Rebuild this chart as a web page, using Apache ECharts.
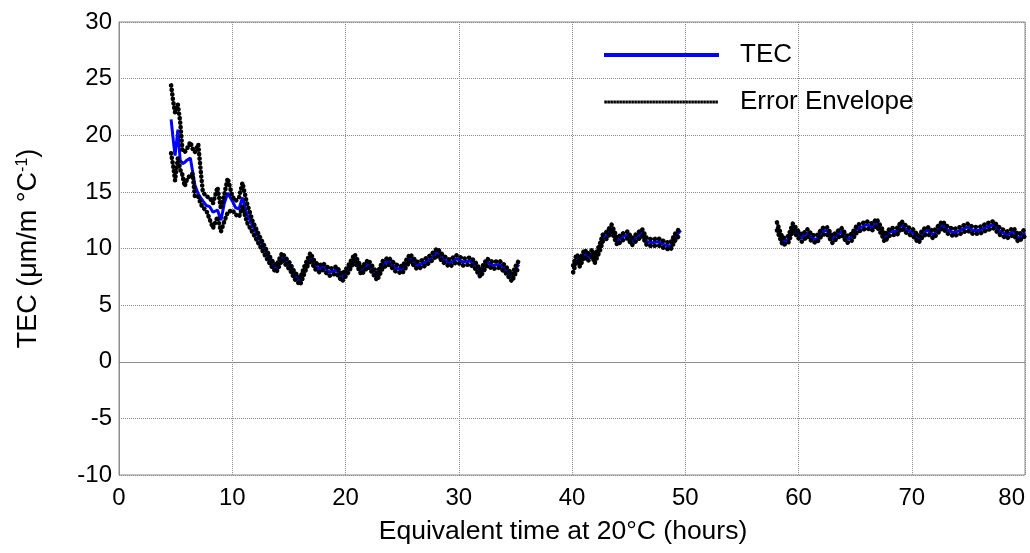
<!DOCTYPE html>
<html>
<head>
<meta charset="utf-8">
<script src="https://cdn.jsdelivr.net/npm/echarts@6/dist/echarts.min.js"></script>
<style>
html,body{margin:0;padding:0;background:#fff;}
#chart{width:1030px;height:553px;}
</style>
</head>
<body>
<div id="chart"></div>
<script>
// Equivalent time at 20°C (hours); null rows split the curve into its three segments
var hours = [
  4.6,4.8,4.95,5.2,5.4,5.6,5.8,6.0,6.3,6.5,6.7,7.0,7.2,7.4,7.7,8.0,8.3,8.7,9.0,9.3,9.6,10.0,10.3,10.6,10.9,11.3,11.8,12.4,13.0,
  13.3,13.6,13.9,14.4,14.7,15.1,15.5,16.0,16.4,16.9,17.3,17.7,18.0,18.6,19.2,19.7,20.2,20.8,21.4,22.0,22.4,22.8,23.3,23.8,24.4,25.0,
  25.7,26.3,26.9,27.5,28.1,28.6,29.2,29.8,30.4,31.0,31.4,31.9,32.5,33.0,33.6,34.1,34.7,35.1,35.3,
  37.5,
  40.1,40.4,40.7,41.1,41.4,41.8,42.0,42.5,42.7,43.1,43.5,44.0,44.4,44.9,45.3,45.7,46.2,46.6,47.1,47.6,48.2,48.7,49.1,49.6,
  54.0,
  58.1,58.3,58.6,59.1,59.5,60.0,60.3,60.8,61.2,61.6,62.1,62.5,63.0,63.4,63.8,64.3,64.7,65.2,65.6,66.0,66.5,66.9,67.4,67.6,68.1,
  68.7,69.1,69.6,70.1,70.6,71.0,71.4,71.9,72.7,73.2,73.7,74.3,74.9,75.4,76.0,76.6,77.2,77.8,78.4,79.0,79.4,80.0
];
// TEC (µm/m °C-1)
var tec = [
  21.4,19.5,18.2,20.5,17.8,17.5,17.6,17.8,18.0,16.8,15.6,14.8,14.5,14.2,13.8,13.7,13.2,13.4,12.5,14.0,14.9,14.2,13.6,13.5,14.5,13.0,12.0,10.8,9.6,
  9.0,8.5,8.2,9.3,8.9,8.4,7.6,7.1,8.2,9.3,8.5,8.2,8.4,7.9,8.1,7.4,8.1,9.2,8.0,8.7,8.1,7.5,8.6,8.9,8.3,8.1,
  9.2,8.5,8.7,9.1,9.7,9.1,8.7,9.1,8.8,8.9,8.6,7.8,8.8,8.5,8.6,8.2,7.4,8.3,8.6,
  null,
  8.2,9.2,8.7,9.6,9.2,9.6,9.0,10.2,10.9,11.2,11.8,10.6,11.0,11.2,10.6,11.0,11.4,10.6,10.5,10.6,10.3,10.2,11.0,11.6,
  null,
  11.9,11.4,10.6,10.8,11.9,11.2,10.9,11.4,10.9,10.8,11.5,11.6,10.8,11.2,11.5,10.8,11.0,11.8,11.9,12.1,11.9,12.3,11.4,10.9,11.5,
  11.5,12.1,11.6,11.4,10.8,11.4,11.6,11.2,12.1,11.6,11.4,11.6,11.9,11.6,11.6,11.9,12.1,11.5,11.2,11.5,10.9,11.4
];
// Upper edge of the error envelope
var upper = [
  24.4,22.9,22.0,22.7,21.2,18.7,18.5,18.8,19.4,18.8,18.5,19.2,17.0,15.0,14.6,14.5,14.0,15.4,13.5,14.8,16.2,14.6,14.2,14.5,15.8,14.0,12.4,11.1,9.9,
  9.3,8.8,8.5,9.6,9.2,8.7,7.9,7.4,8.5,9.6,8.8,8.5,8.7,8.2,8.4,7.7,8.4,9.5,8.3,9.0,8.4,7.8,8.9,9.2,8.6,8.4,
  9.5,8.8,9.0,9.4,10.0,9.4,9.0,9.4,9.1,9.2,8.9,8.1,9.1,8.8,8.9,8.5,7.7,8.6,8.9,
  null,
  8.5,9.5,9.0,9.9,9.5,9.9,9.3,10.5,11.2,11.5,12.1,10.9,11.3,11.5,10.9,11.3,11.7,10.9,10.8,10.9,10.6,10.5,11.3,11.9,
  null,
  12.3,11.7,10.9,11.1,12.2,11.5,11.2,11.7,11.2,11.1,11.8,11.9,11.1,11.5,11.8,11.1,11.3,12.1,12.2,12.4,12.2,12.6,11.7,11.2,11.8,
  11.8,12.4,11.9,11.7,11.1,11.7,11.9,11.5,12.4,11.9,11.7,11.9,12.2,11.9,11.9,12.2,12.4,11.8,11.5,11.8,11.2,11.7
];
// Lower edge of the error envelope
var lower = [
  18.4,17.2,16.0,18.0,17.0,16.5,15.5,16.1,16.5,16.6,14.6,14.6,14.0,13.6,13.4,12.6,11.8,12.8,11.5,12.4,13.2,13.4,13.0,12.8,13.7,12.3,11.4,10.3,9.2,
  8.7,8.2,7.9,9.0,8.6,8.1,7.3,6.8,7.9,9.0,8.2,7.9,8.1,7.6,7.8,7.1,7.8,8.9,7.7,8.4,7.8,7.2,8.3,8.6,8.0,7.8,
  8.9,8.2,8.4,8.8,9.4,8.8,8.4,8.8,8.5,8.6,8.3,7.5,8.5,8.2,8.3,7.9,7.1,8.0,8.3,
  null,
  7.9,8.9,8.4,9.3,8.9,9.3,8.7,9.9,10.6,10.9,11.5,10.3,10.7,10.9,10.3,10.7,11.1,10.3,10.2,10.3,10.0,9.9,10.7,11.3,
  null,
  11.6,11.1,10.3,10.5,11.6,10.9,10.6,11.1,10.6,10.5,11.2,11.3,10.5,10.9,11.2,10.5,10.7,11.5,11.6,11.8,11.6,12.0,11.1,10.6,11.2,
  11.2,11.8,11.3,11.1,10.5,11.1,11.3,10.9,11.8,11.3,11.1,11.3,11.6,11.3,11.3,11.6,11.8,11.2,10.9,11.2,10.6,11.1
];
var xTicks = {min: 0, max: 80, interval: 10};
var yTicks = {min: -10, max: 30, interval: 5};

function pairs(ys) {
  return hours.map(function (h, i) { return [h, ys[i] == null ? '-' : ys[i]]; });
}

// legend icons: a solid bar, and a row of small dots (same 115:4 proportions)
var solidIcon = 'path://M0,0H115V4H0Z';
var dotIcon = 'path://';
for (var k = 0; k < 38; k++) {
  var x0 = k * 3 + 0.3;
  dotIcon += 'M' + x0 + ',0.4h2.6v3.2h-2.6Z';
}
dotIcon += 'M0,0h0.01v4h-0.01ZM115,0h0.01v4h-0.01Z';

var FONT = 'Liberation Sans, Arial, sans-serif';
var chart = echarts.init(document.getElementById('chart'), null, {renderer: 'canvas'});
var envStyle = {color: '#000', width: 4.6, type: [0.1, 4.4], cap: 'round', join: 'round'};

chart.setOption({
  animation: false,
  backgroundColor: '#fff',
  grid: {left: 119, right: 5, top: 22, bottom: 78, show: true, borderColor: '#8c8c8c', borderWidth: 1, containLabel: false},
  legend: {
    orient: 'vertical', left: 599, top: 37, itemWidth: 115, itemHeight: 28, itemGap: 21,
    symbolKeepAspect: true,
    textStyle: {fontFamily: FONT, fontSize: 26, color: '#000', padding: [0, 0, 0, 16]},
    data: [
      {name: 'TEC', icon: solidIcon},
      {name: 'Error Envelope', icon: dotIcon}
    ]
  },
  xAxis: {
    type: 'value', min: xTicks.min, max: xTicks.max, interval: xTicks.interval,
    name: 'Equivalent time at 20°C (hours)', nameLocation: 'middle', nameGap: 43,
    nameTextStyle: {fontFamily: FONT, fontSize: 26.5, color: '#000', padding: [0, 18, 0, 0]},
    axisLine: {show: true, lineStyle: {color: '#8c8c8c', width: 1}},
    axisTick: {show: false},
    axisLabel: {fontFamily: FONT, fontSize: 24, color: '#000', margin: 11, alignMaxLabel: 'right'},
    splitLine: {show: true, lineStyle: {color: '#8c8c8c', type: 'dotted', width: 1}}
  },
  yAxis: {
    type: 'value', min: yTicks.min, max: yTicks.max, interval: yTicks.interval,
    name: 'TEC (μm/m °C{sup|-1})', nameLocation: 'middle', nameGap: 77, nameRotate: 90,
    nameTextStyle: {fontFamily: FONT, fontSize: 27, color: '#000',
      rich: {sup: {fontFamily: FONT, fontSize: 16, color: '#000', verticalAlign: 'top', padding: [0, 0, 11, 0]}}},
    axisLine: {show: true, lineStyle: {color: '#8c8c8c', width: 1}},
    axisTick: {show: false},
    axisLabel: {fontFamily: FONT, fontSize: 24, color: '#000', margin: 7},
    splitLine: {show: true, lineStyle: {color: '#8c8c8c', type: 'dotted', width: 1}}
  },
  series: [
    {name: 'TEC', type: 'line', data: pairs(tec), symbol: 'none', connectNulls: false,
     lineStyle: {color: '#0000ff', width: 3}, itemStyle: {color: '#0000ff'}, z: 2},
    {name: 'Error Envelope', type: 'line', data: pairs(upper), symbol: 'none', connectNulls: false,
     lineStyle: envStyle, itemStyle: {color: '#000'}, z: 3},
    {name: 'Error Envelope', type: 'line', data: pairs(lower), symbol: 'none', connectNulls: false,
     lineStyle: envStyle, itemStyle: {color: '#000'}, z: 3}
  ]
});
</script>
</body>
</html>
